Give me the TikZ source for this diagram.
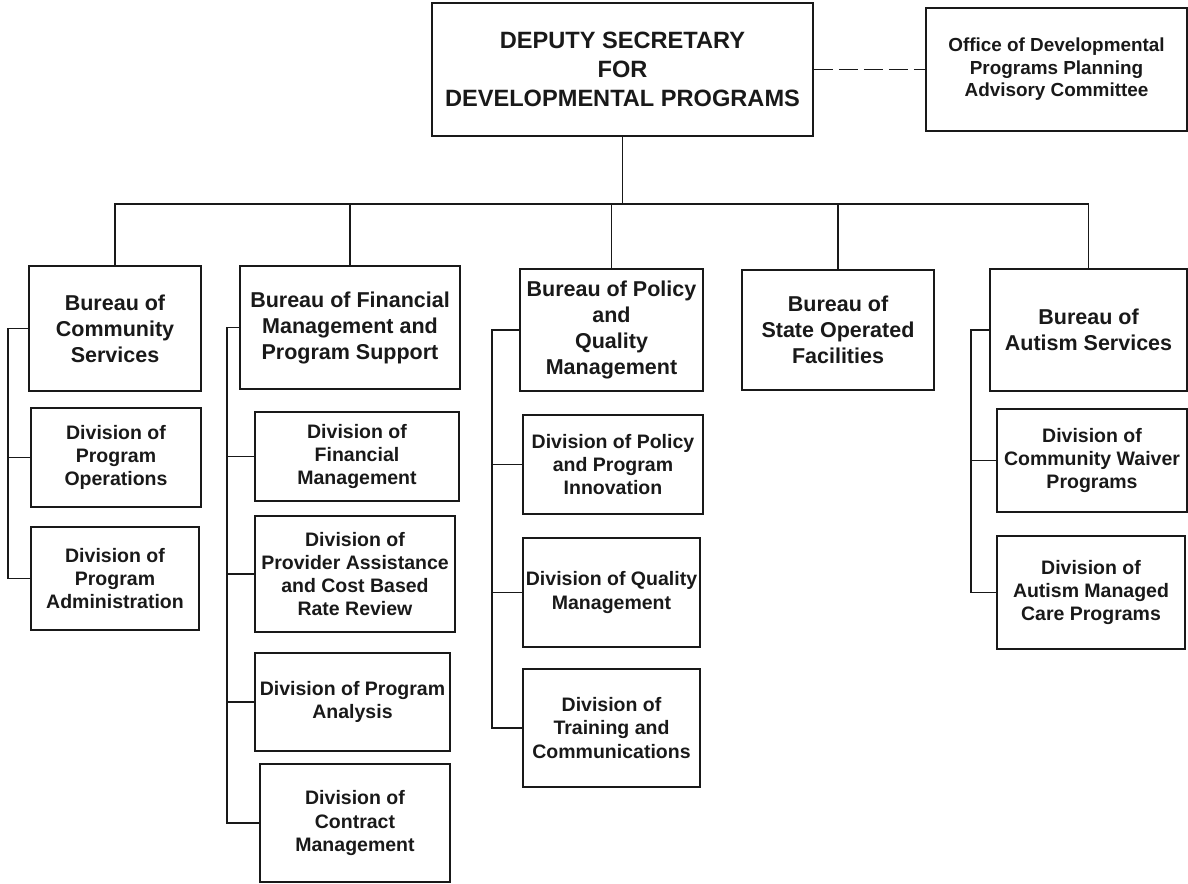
\documentclass[tikz,border=0pt]{standalone}
\usepackage{fontspec}
\setmainfont{Liberation Sans}
\begin{document}
\begin{tikzpicture}[x=1pt,y=-1pt,
  box/.style={draw=black!90, line width=1.6pt, inner sep=0pt, align=center, text=black!90},
  bur/.style={box, font=\bfseries\fontsize{21.5}{26}\selectfont},
  dvn/.style={box, font=\bfseries\fontsize{19.5}{23.3}\selectfont},
  link/.style={draw=black!90, line width=1.6pt},
  dlink/.style={link, dash pattern=on 19pt off 6pt}]
\useasboundingbox (0,0) rectangle (1188,883);

% top level
\node[box, font=\bfseries\fontsize{23.6}{29}\selectfont, minimum width=381pt, minimum height=133pt] (top) at (622.5,69.5)
  {DEPUTY SECRETARY\\FOR\\DEVELOPMENTAL PROGRAMS};
\node[box, font=\bfseries\fontsize{18.9}{22.6}\selectfont, minimum width=261pt, minimum height=123pt] (adv) at (1056.5,69.5)
  {Office of Developmental\\Programs Planning\\Advisory Committee};

% bureaus
\node[bur, minimum width=172pt, minimum height=125pt] (bcs) at (115,328.5) {Bureau of\\Community\\Services};
\node[bur, minimum width=220pt, minimum height=123pt] (bfm) at (350,327.5) {Bureau of Financial\\Management and\\Program Support};
\node[bur, minimum width=183pt, minimum height=122pt] (bpq) at (611.5,330) {Bureau of Policy\\and\\Quality\\Management};
\node[bur, minimum width=192pt, minimum height=120pt] (bso) at (838,330) {Bureau of\\State Operated\\Facilities};
\node[bur, minimum width=197pt, minimum height=122pt] (bas) at (1088.5,330) {Bureau of\\Autism Services};

% divisions - community services
\node[dvn, minimum width=170pt, minimum height=99pt] (dpo) at (116,457.5) {Division of\\Program\\Operations};
\node[dvn, minimum width=168pt, minimum height=103pt] (dpa) at (115,578.5) {Division of\\Program\\Administration};

% divisions - financial
\node[dvn, minimum width=204pt, minimum height=89pt] (dfm) at (357,456.5) {Division of\\Financial\\Management};
\node[dvn, minimum width=200pt, minimum height=116pt] (dpr) at (355,574) {Division of\\Provider Assistance\\and Cost Based\\Rate Review};
\node[dvn, minimum width=195pt, minimum height=98pt] (dan) at (352.5,702) {Division of Program\\Analysis};
\node[dvn, minimum width=190pt, minimum height=118pt] (dcm) at (355,823) {Division of\\Contract\\Management};

% divisions - policy
\node[dvn, minimum width=180pt, minimum height=99pt] (dpi) at (613,464.5) {Division of Policy\\and Program\\Innovation};
\node[dvn, minimum width=177pt, minimum height=109pt] (dqm) at (611.5,592.5) {Division of Quality\\Management};
\node[dvn, minimum width=177pt, minimum height=118pt] (dtc) at (611.5,728) {Division of\\Training and\\Communications};

% divisions - autism
\node[dvn, minimum width=190pt, minimum height=103pt] (dcw) at (1092,460.5) {Division of\\Community Waiver\\Programs};
\node[dvn, minimum width=188pt, minimum height=113pt] (dam) at (1091,592.5) {Division of\\Autism Managed\\Care Programs};

% connectors
\coordinate (bus) at (0,204);
\draw[dlink] (top.east) -- (adv.west);
\draw[link] (top.south) -- (top.south |- bus);
\draw[link] (bcs.north) -- (bcs.north |- bus) -- (bas.north |- bus) -- (bas.north);
\draw[link] (bfm.north) -- (bfm.north |- bus);
\draw[link] (bpq.north) -- (bpq.north |- bus);
\draw[link] (bso.north) -- (bso.north |- bus);

\coordinate (s1) at (8,328.5);
\coordinate (s2) at (227,327.5);
\coordinate (s3) at (492,330);
\coordinate (s4) at (971,330);

\draw[link] (bcs.west) -- (s1) |- (dpa.west);
\draw[link] (dpo.west) -- (dpo.west -| s1);

\draw[link] (bfm.west) -- (s2) |- (dcm.west);
\draw[link] (dfm.west) -- (dfm.west -| s2);
\draw[link] (dpr.west) -- (dpr.west -| s2);
\draw[link] (dan.west) -- (dan.west -| s2);

\draw[link] (bpq.west) -- (s3) |- (dtc.west);
\draw[link] (dpi.west) -- (dpi.west -| s3);
\draw[link] (dqm.west) -- (dqm.west -| s3);

\draw[link] (bas.west) -- (s4) |- (dam.west);
\draw[link] (dcw.west) -- (dcw.west -| s4);
\end{tikzpicture}
\end{document}
